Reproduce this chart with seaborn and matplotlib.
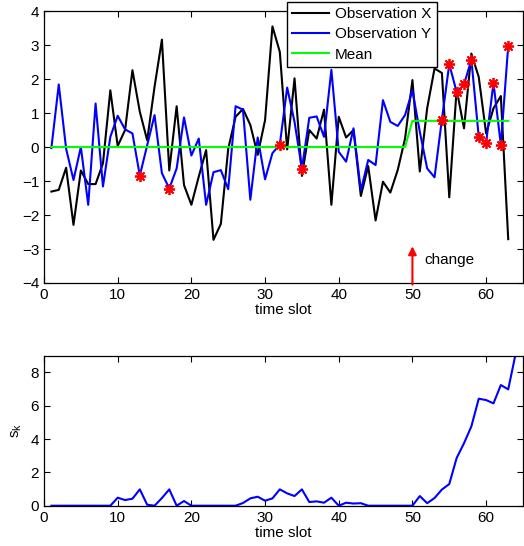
"""Observaciones X / Y con media y estadístico s_k"""

from matplotlib import pyplot as plt
import numpy as np
import seaborn as sns

slots = list(range(1, 64))
obs_x = [-1.31, -1.26, -0.61, -2.29, -0.69, -1.09, -1.09, -0.48, 1.67, 0.03,
         0.50, 2.26, 1.04, 0.20, 1.77, 3.16, -0.69, 1.20, -1.12, -1.70,
         -0.87, -0.09, -2.73, -2.26, -0.05, 0.89, 1.12, 0.65, -0.23, 0.79,
         3.55, 2.80, -0.07, 2.02, -0.85, 0.50, 0.25, 1.10, -1.70, 0.89,
         0.28, 0.50, -1.44, -0.56, -2.16, -1.02, -1.34, -0.68, 0.25, 1.97,
         -0.72, 1.14, 2.31, 2.18, -1.48, 1.70, 0.55, 2.75, 2.06, 0.40,
         1.14, 1.50, -2.71]
obs_y = [-0.03, 1.84, -0.05, -0.97, 0.00, -1.70, 1.28, -1.16, 0.30, 0.92,
         0.52, 0.40, -0.84, 0.05, 0.94, -0.77, -1.22, -0.63, 0.87, -0.25,
         0.25, -1.70, -0.74, -0.68, -1.24, 1.20, 1.10, -1.55, 0.28, -0.95,
         -0.18, 0.07, 1.75, 0.74, -0.64, 0.86, 0.90, 0.30, 2.27, -0.14,
         -0.43, 0.55, -1.28, -0.38, -0.53, 1.38, 0.74, 0.62, 0.94, 1.67,
         0.45, -0.63, -0.89, 0.81, 2.44, 1.62, 1.84, 2.57, 0.30, 0.13,
         1.89, 0.06, 2.98]
mean_vals = [0.0] * 49 + [0.77] * 14
alarm_slots = [13, 17, 32, 35, 54, 55, 56, 57, 58, 59, 60, 61, 62, 63]
change_slot = 50

sk_slots = list(range(1, 65))
sk_vals = [0, 0, 0, 0, 0, 0, 0, 0, 0, 0.48,
           0.34, 0.42, 0.98, 0.06, 0, 0.46, 0.98, 0, 0.28, 0,
           0, 0, 0, 0, 0, 0, 0.16, 0.44, 0.54, 0.30,
           0.44, 0.98, 0.74, 0.58, 0.98, 0.22, 0.26, 0.18, 0.48, 0,
           0.18, 0.13, 0.15, 0, 0, 0, 0, 0, 0, 0,
           0.58, 0.15, 0.46, 0.97, 1.30, 2.86, 3.75, 4.76, 6.42, 6.34,
           6.14, 7.24, 6.98, 9.10]

plt.rcParams['font.family'] = ['Liberation Sans', 'DejaVu Sans']
plt.rcParams['font.size'] = 11

fig = plt.figure(figsize=(5.24, 5.46), dpi=100)
ax1 = fig.add_axes([0.084, 0.4817, 0.914, 0.498])
ax2 = fig.add_axes([0.084, 0.0738, 0.914, 0.2747])

# Panel superior
sns.lineplot(x=slots, y=obs_x, color='k', lw=1.5, label='Observation X', ax=ax1)
sns.lineplot(x=slots, y=obs_y, color='#0000ff', lw=1.5, label='Observation Y', ax=ax1)
sns.lineplot(x=slots, y=mean_vals, color='#00ff00', lw=1.5, label='Mean', ax=ax1)
alarm_y = [obs_y[s - 1] for s in alarm_slots]
ax1.plot(alarm_slots, alarm_y, ls='none', marker=(8, 2, 0), ms=8,
         mec='red', mew=1.3, zorder=5)

ax1.annotate('', xy=(change_slot, -2.92), xytext=(change_slot, -4.05),
             arrowprops=dict(arrowstyle='-|>', color='red', lw=1.5,
                             mutation_scale=12, shrinkA=0, shrinkB=0),
             annotation_clip=False)
ax1.text(51.6, -3.32, 'change', ha='left', va='center')

ax1.set_xlim(0, 65)
ax1.set_ylim(-4, 4)
ax1.set_xticks(range(0, 61, 10))
ax1.set_yticks(range(-4, 5))
ax1.set_xlabel('time slot', labelpad=1)
ax1.legend(loc='upper left', bbox_to_anchor=(287 / 524, 1 - 2 / 546),
           bbox_transform=fig.transFigure, fancybox=False, framealpha=1,
           edgecolor='k', borderpad=0.35, labelspacing=0.4,
           handlelength=2.4, handletextpad=0.4, borderaxespad=0)

# Panel inferior
sns.lineplot(x=sk_slots, y=sk_vals, color='#0000ff', lw=1.5, ax=ax2)
ax2.set_xlim(0, 65)
ax2.set_ylim(0, 9)
ax2.set_xticks(range(0, 61, 10))
ax2.set_yticks(range(0, 9, 2))
ax2.set_xlabel('time slot', labelpad=1)
ax2.set_ylabel('s$_\\mathregular{k}$', labelpad=5)

for ax in (ax1, ax2):
    ax.tick_params(direction='in', top=True, right=True, length=4, width=0.8,
                   pad=3.5)
    for sp in ax.spines.values():
        sp.set_linewidth(0.9)

fig.savefig('out.png', dpi=100)
